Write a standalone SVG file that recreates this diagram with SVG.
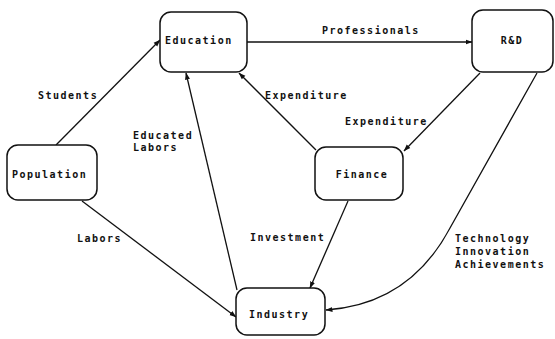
<svg xmlns="http://www.w3.org/2000/svg" width="555" height="339" viewBox="0 0 555 339">
<style>
.box{fill:#fff;stroke:#111;stroke-width:1.5}
.lbl{font-family:"DejaVu Sans Mono","Liberation Mono",monospace;font-size:10px;font-weight:bold;fill:#111;letter-spacing:1.5px}
.edge{fill:none;stroke:#111;stroke-width:1.3}
</style>
<defs>
<marker id="ah" markerWidth="7" markerHeight="6" refX="6.5" refY="3" orient="auto" markerUnits="userSpaceOnUse">
<path d="M0,0.5 L7,3 L0,5.5 Z" fill="#111"/>
</marker>
</defs>
<rect width="555" height="339" fill="#fff"/>
<g id="connectors">
<line class="edge" x1="56" y1="145" x2="160" y2="40" marker-end="url(#ah)"/>
<line class="edge" x1="247" y1="42" x2="472" y2="42" marker-end="url(#ah)"/>
<line class="edge" x1="316" y1="150" x2="239" y2="73" marker-end="url(#ah)"/>
<line class="edge" x1="480" y1="73" x2="404" y2="151" marker-end="url(#ah)"/>
<line class="edge" x1="237" y1="290" x2="186" y2="73" marker-end="url(#ah)"/>
<line class="edge" x1="82" y1="201" x2="236" y2="317" marker-end="url(#ah)"/>
<line class="edge" x1="348" y1="201" x2="310" y2="288" marker-end="url(#ah)"/>
<path class="edge" d="M537,73 L450,228 C425,275 385,306 326,310" marker-end="url(#ah)"/>
<text class="lbl" x="38" y="99">Students</text>
<text class="lbl" x="322" y="34">Professionals</text>
<text class="lbl" x="265" y="99">Expenditure</text>
<text class="lbl" x="345" y="125">Expenditure</text>
<text class="lbl" x="133" y="139">Educated</text>
<text class="lbl" x="133" y="151">Labors</text>
<text class="lbl" x="77" y="242">Labors</text>
<text class="lbl" x="250" y="241">Investment</text>
<text class="lbl" x="455" y="242">Technology</text>
<text class="lbl" x="455" y="255">Innovation</text>
<text class="lbl" x="455" y="268">Achievements</text>
</g>
<g id="education">
<rect class="box" x="160" y="12" width="87" height="60" rx="11"/>
<text class="lbl" x="165" y="44">Education</text>
</g>
<g id="rd">
<rect class="box" x="472" y="10" width="81" height="62" rx="11"/>
<text class="lbl" x="512" y="44" text-anchor="middle">R&amp;D</text>
</g>
<g id="finance">
<rect class="box" x="315" y="147" width="88" height="53" rx="11"/>
<text class="lbl" x="362" y="178" text-anchor="middle">Finance</text>
</g>
<g id="population">
<rect class="box" x="7" y="145" width="90" height="55" rx="11"/>
<text class="lbl" x="12" y="178">Population</text>
</g>
<g id="industry">
<rect class="box" x="236" y="288" width="89" height="47" rx="11"/>
<text class="lbl" x="249" y="318">Industry</text>
</g>
</svg>
